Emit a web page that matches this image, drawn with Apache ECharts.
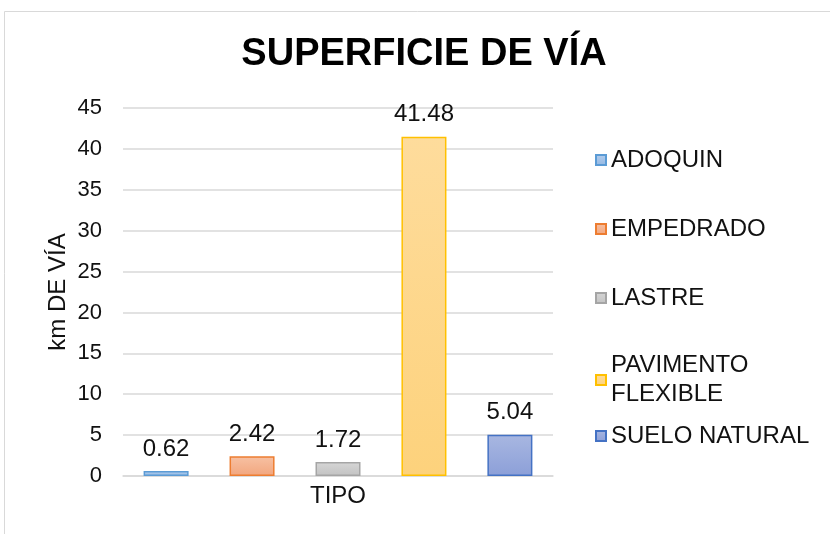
<!DOCTYPE html>
<html>
<head>
<meta charset="utf-8">
<script src="https://cdn.jsdelivr.net/npm/echarts@6/dist/echarts.min.js"></script>
<style>
  html, body { margin: 0; padding: 0; background: #fff; }
  #chart { width: 830px; height: 534px; }
</style>
</head>
<body>
<div id="chart"></div>
<script>
// datos
const tipos = ['ADOQUIN', 'EMPEDRADO', 'LASTRE', 'PAVIMENTO FLEXIBLE', 'SUELO NATURAL'];
const kmVia = [0.62, 2.42, 1.72, 41.48, 5.04];
const yTicks = [0, 5, 10, 15, 20, 25, 30, 35, 40, 45];

// colores (borde, degradado arriba, degradado abajo)
const bordes = ['#5b9bd5', '#ed7d31', '#a5a5a5', '#ffc000', '#4472c4'];
const arriba = ['#b4cdec', '#f7c1a3', '#d6d6d6', '#fedc9c', '#a8b7e1'];
const abajo = ['#93b8e3', '#f2a67e', '#c2c2c2', '#fdd27c', '#8c9fd8'];

const legendTops = [143, 212, 281, 346, 419];

const myChart = echarts.init(document.getElementById('chart'));

const series = tipos.map((t, i) => ({
  name: t,
  type: 'bar',
  barWidth: 45,
  barGap: '91%',
  data: [kmVia[i]],
  itemStyle: {
    color: new echarts.graphic.LinearGradient(0, 0, 0, 1, [
      { offset: 0, color: arriba[i] },
      { offset: 1, color: abajo[i] },
    ]),
    borderColor: bordes[i],
    borderWidth: 1.5,
  },
  label: {
    show: true,
    position: 'top',
    distance: 10,
    fontSize: 24,
    color: '#111',
    fontFamily: 'Liberation Sans',
  },
}));

const legends = tipos.map((t, i) => ({
  data: [t],
  left: 590,
  top: legendTops[i],
  orient: 'vertical',
  icon: 'rect',
  itemWidth: 10,
  itemHeight: 10,
  itemGap: 0,
  formatter: (n) => n.replace('PAVIMENTO ', 'PAVIMENTO\n'),
  textStyle: {
    fontSize: 24,
    color: '#111',
    fontFamily: 'Liberation Sans',
    lineHeight: i === 3 ? 29 : 24,
  },
}));

const option = {
  animation: false,
  backgroundColor: '#fff',
  title: {
    text: 'SUPERFICIE DE VÍA',
    left: 419,
    textAlign: 'center',
    top: 31,
    textStyle: {
      fontSize: 38,
      fontWeight: 'bold',
      color: '#000',
      fontFamily: 'Liberation Sans',
    },
  },
  legend: legends,
  graphic: [
    {
      type: 'rect',
      shape: { x: 4.5, y: 11.5, width: 900, height: 600 },
      style: { fill: 'none', stroke: '#d9d9d9', lineWidth: 1 },
      silent: true,
    },
  ],
  grid: { left: 123, right: 277, top: 108, bottom: 58 },
  xAxis: {
    type: 'category',
    data: ['TIPO'],
    name: 'TIPO',
    nameLocation: 'middle',
    nameGap: 8,
    nameMoveOverlap: false,
    nameTextStyle: { fontSize: 24, color: '#111', fontFamily: 'Liberation Sans' },
    axisLabel: { show: false },
    axisTick: { show: false },
    axisLine: { lineStyle: { color: '#d9d9d9', width: 1.5 } },
  },
  yAxis: {
    type: 'value',
    min: yTicks[0],
    max: yTicks[yTicks.length - 1],
    interval: 5,
    name: 'km DE VÍA',
    nameLocation: 'middle',
    nameGap: 53,
    nameMoveOverlap: false,
    nameRotate: 90,
    nameTextStyle: { fontSize: 24, color: '#111', fontFamily: 'Liberation Sans' },
    axisLabel: { fontSize: 22, color: '#111', margin: 21, fontFamily: 'Liberation Sans' },
    axisLine: { show: false },
    axisTick: { show: false },
    splitLine: { lineStyle: { color: '#d9d9d9', width: 1.5 } },
  },
  series: series,
};

if (option && typeof option === 'object') {
  myChart.setOption(option, true);
}
</script>
</body>
</html>
